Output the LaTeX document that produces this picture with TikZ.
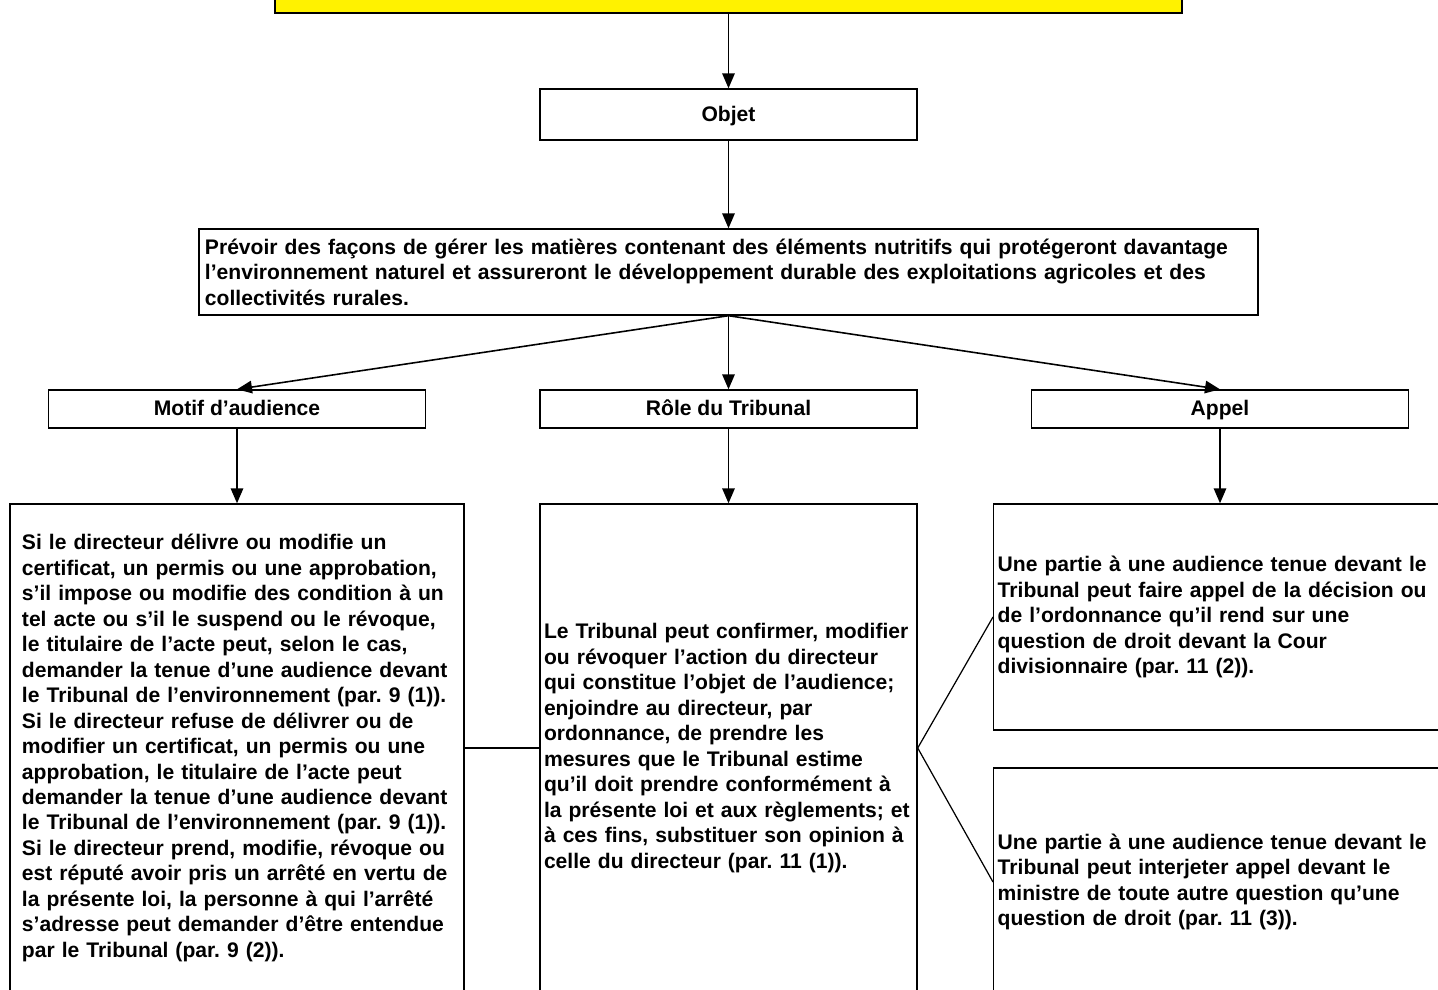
\documentclass[tikz,border=0pt]{standalone}
\usepackage{fontspec}
\setmainfont{Liberation Sans}
\usetikzlibrary{arrows.meta}

\begin{document}
\frenchspacing
\begin{tikzpicture}[
        x=0.2mm, y=-0.2mm,
        every node/.style={font=\bfseries\fontsize{12}{14.5}\selectfont},
        heading/.style={rectangle, draw, line width=0.8pt, fill=white, minimum width=75.4mm, minimum height=7.6mm, inner sep=0pt, text height=1em, text depth=0.21em},
        textbox/.style={rectangle, draw, line width=0.8pt, fill=white, align=left},
        arrow/.style={-{Triangle[length=3mm, width=2.5mm]}, line width=0.9pt},
    ]
        \useasboundingbox (0,0) rectangle (1438,990);

        % Title (cut at the top)
        \node[rectangle, draw, line width=0.9pt, fill=yellow, minimum width=181.4mm, minimum height=14.6mm] (titre) at (728.5,-23.5) {};

        % Objet
        \node[heading, minimum height=10.2mm] (objet) at (728.5,114.5) {Objet};
        \node[textbox, minimum width=211.8mm, minimum height=17.2mm, text width=209.4mm, inner xsep=1.2mm] (but) at (728.5,272) {Prévoir des façons de gérer les matières contenant des éléments nutritifs qui protégeront davantage\\ l’environnement naturel et assureront le développement durable des exploitations agricoles et des\\ collectivités rurales.};

        % Headings
        \node[heading] (motif) at (237,409) {Motif d’audience};
        \node[heading] (role) at (728.5,409) {Rôle du Tribunal};
        \node[heading] (appel) at (1220,409) {Appel};

        % Texts
        \node[textbox, minimum height=97.6mm, text width=86mm, inner xsep=2.4mm] (motiftxt) at (237,748) {Si le directeur délivre ou modifie un\\ certificat, un permis ou une approbation,\\ s’il impose ou modifie des condition à un\\ tel acte ou s’il le suspend ou le révoque,\\ le titulaire de l’acte peut, selon le cas,\\ demander la tenue d’une audience devant\\ le Tribunal de l’environnement (par. 9 (1)).\\ Si le directeur refuse de délivrer ou de\\ modifier un certificat, un permis ou une\\ approbation, le titulaire de l’acte peut\\ demander la tenue d’une audience devant\\ le Tribunal de l’environnement (par. 9 (1)).\\ Si le directeur prend, modifie, révoque ou\\ est réputé avoir pris un arrêté en vertu de\\ la présente loi, la personne à qui l’arrêté\\ s’adresse peut demander d’être entendue\\ par le Tribunal (par. 9 (2)).};
        \node[textbox, minimum height=97.6mm, text width=73.8mm, inner xsep=0.8mm] (roletxt) at (728.5,748) {Le Tribunal peut confirmer, modifier\\ ou révoquer l’action du directeur\\ qui constitue l’objet de l’audience;\\ enjoindre au directeur, par\\ ordonnance, de prendre les\\ mesures que le Tribunal estime\\ qu’il doit prendre conformément à\\ la présente loi et aux règlements; et\\ à ces fins, substituer son opinion à\\ celle du directeur (par. 11 (1)).};
        \node[textbox, anchor=west, minimum height=45.2mm, text width=92mm, inner xsep=0.8mm] (appelhaut) at (993,617) {Une partie à une audience tenue devant le\\ Tribunal peut faire appel de la décision ou\\ de l’ordonnance qu’il rend sur une\\ question de droit devant la Cour\\ divisionnaire (par. 11 (2)).};
        \node[textbox, anchor=west, minimum height=45.6mm, text width=92mm, inner xsep=0.8mm] (appelbas) at (993,882) {Une partie à une audience tenue devant le\\ Tribunal peut interjeter appel devant le\\ ministre de toute autre question qu’une\\ question de droit (par. 11 (3)).};

        % Arrows
        \draw[arrow] (titre) -- (objet);
        \draw[arrow] (objet) -- (but);
        \draw[arrow] (but.south) -- (motif.north);
        \draw[arrow] (but.south) -- (role.north);
        \draw[arrow] (but.south) -- (appel.north);
        \draw[arrow] (motif) -- (motiftxt);
        \draw[arrow] (role) -- (roletxt);
        \draw[arrow] (appel) -- (appel |- appelhaut.north);

        % Links
        \draw[line width=0.7pt] (motiftxt) -- (roletxt);
        \draw[line width=0.7pt] (roletxt.east) -- (appelhaut.west);
        \draw[line width=0.7pt] (roletxt.east) -- (appelbas.west);

    \end{tikzpicture}
\end{document}
